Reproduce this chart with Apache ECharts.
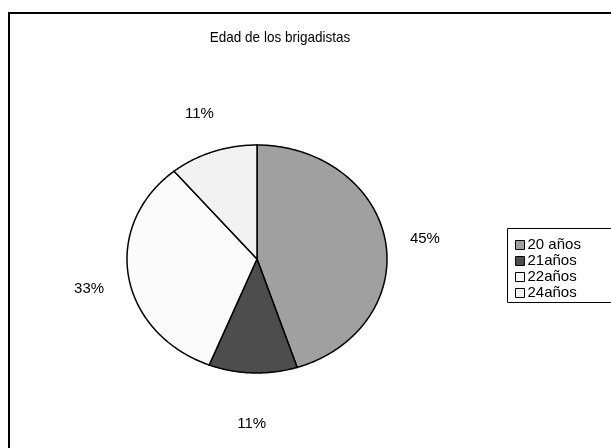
<!DOCTYPE html>
<html><head><meta charset="utf-8">
<script src="https://cdn.jsdelivr.net/npm/echarts@6/dist/echarts.min.js"></script>
<style>html,body{margin:0;padding:0;background:#fff}#c{width:611px;height:448px}</style>
</head><body><div id="c"></div>
<script>
const titleText = 'Edad de los brigadistas';
const categories = ['20 años', '21años', '22años', '24años'];
const values = [45, 11, 33, 11];
const colors = ['#a0a0a0', '#4d4d4d', '#fbfbfb', '#f2f2f2'];

const total = values.reduce((a, b) => a + b, 0);
const FAM = '"Liberation Sans", Arial, sans-serif';
const FONT = '15px ' + FAM;
const CX = 257, CY = 259, RX = 130, RY = 114, LRX = 170, LRY = 160;

function renderSlice(params, api) {
  const i = params.seriesIndex;
  let before = 0;
  for (let k = 0; k < i; k++) before += values[k];
  const a0 = before / total * Math.PI * 2;
  const a1 = (before + values[i]) / total * Math.PI * 2;
  const pts = [[CX, CY]];
  const n = Math.max(8, Math.ceil((a1 - a0) / 0.01));
  for (let s = 0; s <= n; s++) {
    const a = a0 + (a1 - a0) * s / n;
    pts.push([CX + RX * Math.sin(a), CY - RY * Math.cos(a)]);
  }
  const am = (a0 + a1) / 2;
  return {
    type: 'group',
    children: [
      { type: 'polygon', shape: { points: pts },
        style: { fill: colors[i], stroke: '#000', lineWidth: 1.5 } },
      { type: 'text', x: CX + LRX * Math.sin(am), y: CY - LRY * Math.cos(am) + 5,
        style: { text: Math.round(values[i] / total * 100) + '%', fill: '#000', font: FONT,
                 textAlign: 'center', textVerticalAlign: 'middle' } }
    ]
  };
}

const chart = echarts.init(document.getElementById('c'), null, { renderer: 'canvas' });
chart.setOption({
  animation: false,
  backgroundColor: '#fff',
  graphic: [
    { type: 'rect', shape: { x: 9, y: 13, width: 700, height: 500 },
      style: { fill: 'none', stroke: '#000', lineWidth: 2 }, z: -10 },
    { type: 'rect', shape: { x: 507.5, y: 228.5, width: 200, height: 74 },
      style: { fill: 'none', stroke: '#000', lineWidth: 1 }, z: -10 },
    { type: 'text', x: 280, y: 38, scaleY: 1.12,
      style: { text: titleText, font: '13.5px ' + FAM, fill: '#000',
               textAlign: 'center', textVerticalAlign: 'middle' } }
  ],
  legend: {
    orient: 'vertical', left: 510, top: 232, itemGap: 0, itemWidth: 9, itemHeight: 9,
    icon: 'rect', data: categories,
    itemStyle: { borderColor: '#000', borderWidth: 1 },
    textStyle: { fontSize: 15, color: '#000', lineHeight: 16, fontFamily: FAM, padding: [0, 0, 0, -2] }
  },
  series: categories.map((name, i) => ({
    type: 'custom', name: name, coordinateSystem: 'none',
    itemStyle: { color: colors[i] },
    renderItem: renderSlice,
    data: [[values[i]]]
  }))
});
</script>
</body></html>
